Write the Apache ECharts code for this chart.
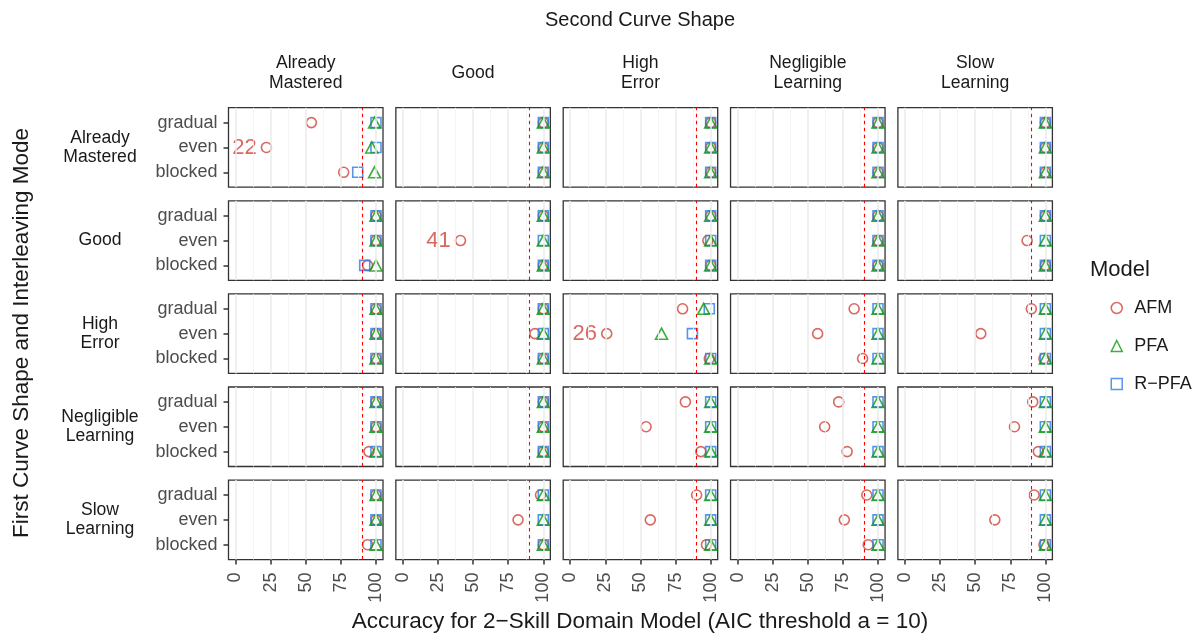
<!DOCTYPE html>
<html>
<head>
<meta charset="utf-8">
<script src="https://cdn.jsdelivr.net/npm/echarts@6/dist/echarts.min.js"></script>
<style>html,body{margin:0;padding:0;background:#fff}#main{width:1197px;height:637px}</style>
</head>
<body>
<div id="main"></div>
<script>
// ---- data ----
const colNames = ['Already\nMastered', 'Good', 'High\nError', 'Negligible\nLearning', 'Slow\nLearning'];
const rowNames = ['Already\nMastered', 'Good', 'High\nError', 'Negligible\nLearning', 'Slow\nLearning'];
const modes = ['gradual', 'even', 'blocked'];
const xTicks = [0, 25, 50, 75, 100];
const threshold = 90;
// values per [row][col] = [gradual, even, blocked]
const afm = [
  [[54, 22, 77], [100, 100, 100], [100, 100, 100], [100, 100, 100], [100, 100, 100]],
  [[100, 100, 94], [100, 41, 100], [100, 98, 100], [100, 100, 100], [100, 87, 100]],
  [[100, 100, 100], [100, 94, 100], [80, 26, 99], [83, 57, 89], [90, 54, 99]],
  [[100, 100, 95], [100, 100, 100], [82, 54, 93], [72, 62, 78], [91, 78, 95]],
  [[100, 100, 94], [98, 82, 100], [90, 57, 97], [92, 76, 93], [92, 64, 99]]
];
const pfa = [
  [[99, 97, 99], [100, 100, 100], [100, 100, 100], [100, 100, 100], [100, 100, 100]],
  [[100, 100, 100], [100, 100, 100], [100, 100, 100], [100, 100, 100], [100, 100, 100]],
  [[100, 100, 100], [100, 100, 100], [95, 65, 100], [100, 100, 100], [100, 100, 100]],
  [[100, 100, 100], [100, 100, 100], [100, 100, 100], [100, 100, 100], [100, 100, 100]],
  [[100, 100, 100], [100, 100, 100], [100, 100, 100], [100, 100, 100], [100, 100, 100]]
];
const rpfa = [
  [[100, 100, 87], [100, 100, 100], [100, 100, 100], [100, 100, 100], [100, 100, 100]],
  [[100, 100, 92], [100, 100, 100], [100, 100, 100], [100, 100, 100], [100, 100, 100]],
  [[100, 100, 100], [100, 100, 100], [99, 87, 100], [100, 100, 100], [100, 100, 100]],
  [[100, 100, 100], [100, 100, 100], [100, 100, 100], [100, 100, 100], [100, 100, 100]],
  [[100, 100, 100], [100, 100, 100], [100, 100, 100], [100, 100, 100], [100, 100, 100]]
];
const labelBelow = 50; // AFM values below this are annotated

// ---- style ----
const FONT = '"Liberation Sans", Arial, Helvetica, sans-serif';
const RED = '#CF4238', GREEN = '#0E9A0E', BLUE = '#2B7BEA';
const models = [
  {name: 'AFM', data: afm, symbol: 'circle', size: 10, color: RED},
  {name: 'R\u2212PFA', data: rpfa, symbol: 'rect', size: 10, color: BLUE},
  {name: 'PFA', data: pfa, symbol: 'triangle', size: [12, 11], color: GREEN}
];

const chart = echarts.init(document.getElementById('main'));
const grids = [], xAxes = [], yAxes = [], series = [];
const L0 = 228.5, T0 = 107.7, W = 154.5, H = 79.5, DX = 167.35, DY = 93.1;

for (let r = 0; r < 5; r++) {
  for (let c = 0; c < 5; c++) {
    const k = r * 5 + c;
    grids.push({left: L0 + c * DX, top: T0 + r * DY, width: W, height: H, show: true,
      borderColor: '#333333', borderWidth: 1.3, backgroundColor: '#ffffff'});
    xAxes.push({type: 'value', gridIndex: k, min: -5, max: 105,
      axisLine: {show: false, onZero: false}, splitLine: {show: false},
      axisTick: {show: r === 4, length: 5, customValues: xTicks, lineStyle: {color: '#333333', width: 1.5}},
      axisLabel: {show: r === 4, customValues: xTicks, rotate: 90, margin: 13,
        color: '#4D4D4D', fontSize: 18, fontFamily: FONT}});
    yAxes.push({type: 'value', gridIndex: k, min: 0.4, max: 3.6,
      axisLine: {show: false, onZero: false}, splitLine: {show: false},
      axisTick: {show: c === 0, length: 5, customValues: [1, 2, 3], lineStyle: {color: '#333333', width: 1.5}},
      axisLabel: {show: c === 0, customValues: [1, 2, 3], margin: 11,
        formatter: v => modes[3 - Math.round(v)],
        color: '#4D4D4D', fontSize: 18, fontFamily: FONT}});
    const gl = [];
    xTicks.forEach(v => gl.push({xAxis: v, lineStyle: {color: '#EBEBEB', width: 1.5, type: 'solid'}}));
    for (let i = 0; i < xTicks.length - 1; i++) {
      gl.push({xAxis: (xTicks[i] + xTicks[i + 1]) / 2, lineStyle: {color: '#F2F2F2', width: 0.8, type: 'solid'}});
    }
    gl.push({xAxis: threshold, lineStyle: {color: '#FF0000', width: 1.1, type: [3.5, 3.5]}});
    series.push({type: 'line', xAxisIndex: k, yAxisIndex: k, data: [], silent: true, z: 1,
      markLine: {silent: true, symbol: 'none', animation: false, label: {show: false},
        emphasis: {disabled: true}, data: gl}});
    models.forEach(m => {
      series.push({
        type: 'scatter', name: m.name, xAxisIndex: k, yAxisIndex: k, z: 3,
        symbol: m.symbol, symbolSize: m.size, silent: true, emphasis: {disabled: true},
        itemStyle: {color: 'rgba(0,0,0,0)', borderColor: m.color, borderWidth: 1.6},
        data: m.data[r][c].map((v, i) => {
          const item = {value: [v, 3 - i]};
          if (m.name === 'AFM' && v < labelBelow) {
            item.label = {show: true, position: 'left', distance: 4, formatter: String(v),
              color: m.color, fontSize: 22, fontFamily: FONT};
          }
          return item;
        })
      });
    });
  }
}

const graphics = [];
const txt = (text, x, y, size, opts) => Object.assign({type: 'text', x: x, y: y, silent: true,
  style: {text: text, fill: '#1A1A1A', font: size + 'px ' + FONT, align: 'center', verticalAlign: 'middle', lineHeight: size * 1.1}}, opts || {});
graphics.push(txt('Second Curve Shape', 640, 20, 20));
colNames.forEach((n, c) => graphics.push(txt(n, L0 + c * DX + W / 2, 73, 17.6)));
rowNames.forEach((n, r) => graphics.push(txt(n, 100, T0 + r * DY + H / 2, 17.6)));
graphics.push(txt('First Curve Shape and Interleaving Mode', 22, 333, 22.5, {rotation: Math.PI / 2}));
graphics.push(txt('Accuracy for 2\u2212Skill Domain Model (AIC threshold a = 10)', 640, 622, 22.5));
graphics.push({type: 'text', x: 1090, y: 270, silent: true,
  style: {text: 'Model', fill: '#1A1A1A', font: '22px ' + FONT, align: 'left', verticalAlign: 'middle'}});

chart.setOption({
  animation: false,
  grid: grids, xAxis: xAxes, yAxis: yAxes, series: series,
  legend: {orient: 'vertical', left: 1105.5, top: 294, itemWidth: 11, itemHeight: 11, itemGap: 20,
    selectedMode: false,
    textStyle: {fontSize: 18, color: '#1A1A1A', fontFamily: FONT, padding: [0, 0, 0, 7]},
    data: [
      {name: 'AFM', icon: 'circle', itemStyle: {color: 'rgba(0,0,0,0)', borderColor: RED, borderWidth: 1.5}},
      {name: 'PFA', icon: 'triangle', itemStyle: {color: 'rgba(0,0,0,0)', borderColor: GREEN, borderWidth: 1.5}},
      {name: 'R\u2212PFA', icon: 'rect', itemStyle: {color: 'rgba(0,0,0,0)', borderColor: BLUE, borderWidth: 1.5}}
    ]},
  graphic: graphics
});
</script>
</body>
</html>
